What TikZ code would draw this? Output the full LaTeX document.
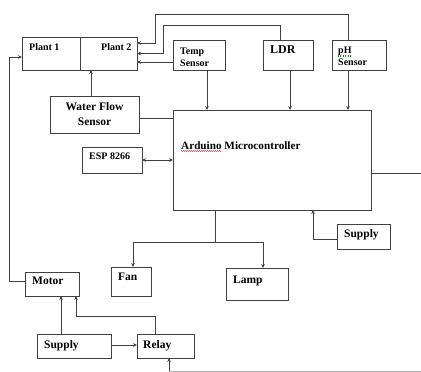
\documentclass[tikz,border=0pt]{standalone}
\usepackage{fontspec}
\setmainfont{Liberation Serif}
\usetikzlibrary{arrows.meta,decorations.pathmorphing}
\begin{document}
\begin{tikzpicture}[x=1pt,y=-1pt,
 box/.style={draw=black!75, line width=0.75pt, inner sep=0pt, outer sep=0pt, anchor=north west},
 lbl/.style={anchor=base west, inner sep=0pt, font=\bfseries\fontsize{11.5}{13}\selectfont},
 lbls/.style={anchor=base west, inner sep=0pt, font=\bfseries\fontsize{10}{12}\selectfont},
 ln/.style={draw=black!75, line width=0.75pt},
 arr/.style={ln, -{Stealth[length=4pt,width=3.6pt]}},
 darr/.style={ln, {Stealth[length=4pt,width=3.6pt]}-{Stealth[length=4pt,width=3.6pt]}}]
\fill[white] (0,0) rectangle (421,372);
\useasboundingbox (0,0) rectangle (421,372);

% boxes
\node[box, minimum width=115, minimum height=33] (plant) at (22,37) {};
\node[box, minimum width=52, minimum height=30] (temp) at (173,40) {};
\node[box, minimum width=50, minimum height=30] (ldr) at (263,40) {};
\node[box, minimum width=54, minimum height=30] (ph) at (332,40) {};
\node[box, minimum width=89, minimum height=37] (water) at (50,96) {};
\node[box, minimum width=198, minimum height=100] (ard) at (173,110) {};
\node[box, minimum width=60, minimum height=26] (esp) at (82,147) {};
\node[box, minimum width=53, minimum height=25] (supA) at (337,224) {};
\node[box, minimum width=40, minimum height=29] (fan) at (111,267) {};
\node[box, minimum width=62, minimum height=32] (lamp) at (226,268) {};
\node[box, minimum width=54, minimum height=24] (motor) at (25,272) {};
\node[box, minimum width=74, minimum height=24] (supB) at (37,334) {};
\node[box, minimum width=57, minimum height=24] (relay) at (137,334) {};

% plant divider
\draw[ln] ([xshift=58pt]plant.north west) -- ([xshift=58pt]plant.south west);

% labels
\node[lbls] (tp1) at (29,50) {Plant 1};
\node[lbls] (tp2) at (101,50) {Plant 2};
\node[lbls] (tt1) at (180,54) {Temp};
\node[lbls] (tt2) at (180,66) {Sensor};
\node[lbl, font=\bfseries\fontsize{12}{14}\selectfont] (tldr) at (270,53) {LDR};
\node[lbls] (tph1) at (338,53) {pH};
\node[lbls] (tph2) at (338,65) {Sensor};
\node[lbl, anchor=base] (tw1) at (94.5,110) {Water Flow};
\node[lbl, anchor=base] (tw2) at (94.5,125) {Sensor};
\node[lbl, font=\bfseries\fontsize{11.2}{13}\selectfont] (tard) at (181,149) {Arduino Microcontroller};
\node[lbls] (tesp) at (89,159) {ESP 8266};
\node[lbl] (tsa) at (344,237) {Supply};
\node[lbl] (tfan) at (118,280) {Fan};
\node[lbl] (tlamp) at (233,283) {Lamp};
\node[lbl] (tmotor) at (32,284) {Motor};
\node[lbl] (tsb) at (44,348) {Supply};
\node[lbl] (trelay) at (143,348) {Relay};

% spell-check marks
\draw[red, line width=0.4pt, decorate, decoration={snake, amplitude=0.5pt, segment length=2pt}]
  ([yshift=-2pt]tard.base west) -- ++(41,0);
\draw[green!60!black, line width=0.4pt, dotted] ([yshift=-2pt]tph1.base west) -- ++(14,0);
\draw[green!60!black, line width=0.4pt, dotted] ([yshift=-3pt]tph1.base west) -- ++(14,0);

% sensor feedback to plant
\draw[arr] ([xshift=-11pt]ph.north) |- (155,14) |- ([yshift=10.5pt]plant.east);
\draw[arr] ([xshift=-8pt]ldr.north) |- (163,25) |- (plant.east);
\draw[arr] ([yshift=-8.5pt]plant.east -| temp.west) -- ([yshift=-8.5pt]plant.east);

% sensors to arduino
\draw[arr] ([xshift=8pt]temp.south) -- ([xshift=8pt]temp.south |- ard.north);
\draw[arr] ([xshift=2pt]ldr.south) -- ([xshift=2pt]ldr.south |- ard.north);
\draw[arr] ([xshift=-11pt]ph.south) -- ([xshift=-11pt]ph.south |- ard.north);

% water flow
\draw[arr] ([xshift=-3.5pt]water.north) -- ([xshift=-3.5pt]water.north |- plant.south);
\draw[ln] ([yshift=-3.5pt]water.east) -- ([yshift=-3.5pt]water.east -| ard.west);

% esp
\draw[darr] (esp.east) -- (esp.east -| ard.west);

% arduino output right
\coordinate (rout) at (421,173);
\draw[ln] (rout -| ard.east) -- (rout);

% supply to arduino
\draw[arr] ([yshift=-2.5pt]supA.west) -| ([xshift=41pt]ard.south);

% arduino to fan and lamp
\coordinate (split) at (215,242);
\draw[ln] (split |- ard.south) -- (split);
\draw[arr] (split) -| ([xshift=2pt]fan.north);
\draw[arr] (split) -| ([xshift=6pt]lamp.north);

% motor to plant
\draw[arr] ([yshift=3pt]motor.west) -- ++(-16,0) |- ([yshift=-3.5pt]plant.west);

% supply, relay, motor
\draw[arr] ([yshift=1pt]supB.east) -- ([yshift=1pt]relay.west);
\draw[arr] ([xshift=-13pt]supB.north) -- ([xshift=-13pt]supB.north |- motor.south);
\draw[arr] ([xshift=-10.5pt]relay.north) |- (76,316) -- (76,316 |- motor.south);

% input to relay
\coordinate (bin) at (421,371);
\coordinate (bcorner) at (169,371);
\draw[black!30, line width=0.7pt] (bin) -- (bcorner);
\draw[arr] (bcorner) -- (bcorner |- relay.south);
\end{tikzpicture}
\end{document}
